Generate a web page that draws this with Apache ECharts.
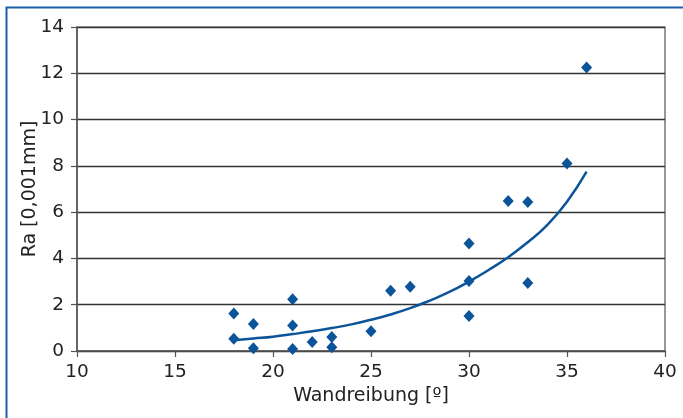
<!DOCTYPE html>
<html>
<head>
<meta charset="utf-8">
<script src="https://cdn.jsdelivr.net/npm/echarts@6/dist/echarts.min.js"></script>
<style>
html,body{margin:0;padding:0;background:#fff;}
#c{width:683px;height:418px;}
</style>
</head>
<body>
<div id="c"></div>
<script>
// Measured points (Wandreibung [º], Ra [0,001mm])
const wallFriction = [18, 18, 19, 19, 21, 21, 21, 22, 23, 23, 25, 26, 27, 30, 30, 30, 32, 33, 33, 35, 36];
const roughness    = [1.62, 0.53, 1.17, 0.12, 2.24, 1.1, 0.09, 0.39, 0.6, 0.16, 0.85, 2.6, 2.78, 4.64, 3.02, 1.51, 6.48, 6.44, 2.94, 8.1, 12.25];
// Trend curve
const trendX = [18, 19, 20, 21, 22, 23, 24, 25, 26, 27, 28, 29, 30, 31, 32, 33, 34, 35, 36];
const trendY = [0.46, 0.54, 0.62, 0.73, 0.85, 0.99, 1.15, 1.35, 1.58, 1.85, 2.18, 2.55, 3.0, 3.5, 4.05, 4.7, 5.45, 6.45, 7.75];
// Axis settings
const xTicks = [10, 15, 20, 25, 30, 35, 40];
const yTicks = [0, 2, 4, 6, 8, 10, 12, 14];
const xTitle = 'Wandreibung [º]';
const yTitle = 'Ra [0,001mm]';

const blue = '#0b5499';
const font = 'DejaVu Sans';
const pts = wallFriction.map((x, i) => [x, roughness[i]]);
const trend = trendX.map((x, i) => [x, trendY[i]]);

const chart = echarts.init(document.getElementById('c'), null, {renderer: 'canvas'});
chart.setOption({
  animation: false,
  backgroundColor: '#fff',
  graphic: [{
    type: 'rect', left: 4, top: 5, silent: true,
    shape: {x: 0, y: 0, width: 720, height: 460},
    style: {fill: 'none', stroke: '#1a60a8', lineWidth: 2}
  }],
  grid: {left: 77, right: 18, top: 27, bottom: 67, show: true, borderColor: '#555', borderWidth: 1.2, backgroundColor: 'transparent'},
  xAxis: {
    type: 'value', min: xTicks[0], max: xTicks[xTicks.length - 1], interval: 5,
    name: xTitle, nameLocation: 'middle', nameGap: 36, nameMoveOverlap: false,
    nameTextStyle: {fontFamily: font, fontSize: 19, color: '#222'},
    axisLine: {show: true, lineStyle: {color: '#555', width: 1.5}},
    axisTick: {show: true, inside: false, length: 6, lineStyle: {color: '#555', width: 1.2}},
    axisLabel: {fontFamily: font, fontSize: 18.5, color: '#222', margin: 12},
    splitLine: {show: false}
  },
  yAxis: {
    type: 'value', min: yTicks[0], max: yTicks[yTicks.length - 1], interval: 2,
    name: yTitle, nameLocation: 'middle', nameGap: 37, nameMoveOverlap: false,
    nameTextStyle: {fontFamily: font, fontSize: 19, color: '#222'},
    axisLine: {show: true, lineStyle: {color: '#555', width: 1.5}},
    axisTick: {show: true, inside: false, length: 6, lineStyle: {color: '#555', width: 1.2}},
    axisLabel: {fontFamily: font, fontSize: 18.5, color: '#222', margin: 13},
    splitLine: {show: true, lineStyle: {color: '#333', width: 1.3}}
  },
  series: [
    {
      type: 'line', data: trend, smooth: true, showSymbol: false, symbol: 'none',
      lineStyle: {color: blue, width: 2.5}, z: 2
    },
    {
      type: 'scatter', data: pts, symbol: 'diamond', symbolSize: [11, 12],
      itemStyle: {color: blue, opacity: 1}, z: 3
    }
  ]
});
</script>
</body>
</html>
